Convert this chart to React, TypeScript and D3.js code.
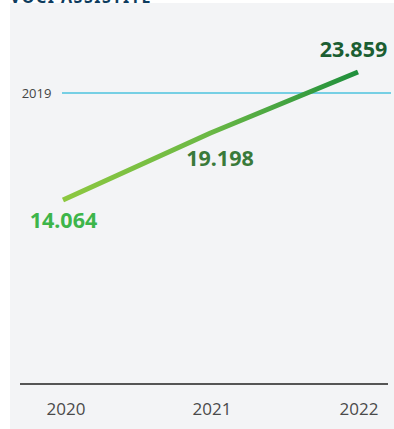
import React from "react";
import * as d3 from "d3";

const years = ["2020", "2021", "2022"];
const values = [14.064, 19.198, 23.859];
const valueLabels = ["14.064", "19.198", "23.859"];
const refYear = "2019";
const refValue = 22.25;
const labelColors = ["#3db54a", "#3a7a3a", "#1b5e32"];

export default function App() {
  const W = 394, H = 429;
  const x = d3.scalePoint<string>().domain(years).range([63, 358]);
  const y = d3.scaleLinear().domain([0, values[2]]).range([384, 72]);
  const line = d3.line<number>().x((_, i) => x(years[i])!).y(d => y(d));
  const pts = values.map((v, i) => ({ x: x(years[i])!, y: y(v) }));
  const labelOffsets = [
    { dx: 0.5, dy: 28 },
    { dx: 9.5, dy: 33 },
    { dx: -4.5, dy: -15 },
  ];
  const tickX = [66, 212, 359];
  return (
    <svg width={W} height={H} style={{ position: "absolute", left: 0, top: 0 }}>
      <defs>
        <linearGradient id="lg" gradientUnits="userSpaceOnUse" x1={pts[0].x} y1={0} x2={pts[2].x} y2={0}>
          <stop offset="0" stopColor="#8dc840" />
          <stop offset="0.5" stopColor="#6ab845" />
          <stop offset="1" stopColor="#1f8f3c" />
        </linearGradient>
      </defs>
      <rect x={10} y={3} width={W - 10} height={H - 3} fill="#f3f4f6" />
      <text x={10} y={3} fontFamily="Noto Sans" fontWeight="bold" fontSize={16} fill="#0d3b5e" letterSpacing={1.5}>
        VOCI ASSISTITE
      </text>
      <line x1={62} x2={391} y1={y(refValue)} y2={y(refValue)} stroke="#4dc3de" strokeWidth={1.5} />
      <text x={36.5} y={y(refValue) + 5} textAnchor="middle" fontFamily="Open Sans" fontSize={13} fill="#444">
        {refYear}
      </text>
      <path d={line(values)!} fill="none" stroke="url(#lg)" strokeWidth={5} strokeLinejoin="round" />
      {values.map((v, i) => (
        <text
          key={i}
          x={pts[i].x + labelOffsets[i].dx}
          y={pts[i].y + labelOffsets[i].dy}
          textAnchor="middle"
          fontFamily="Noto Sans"
          fontWeight="bold"
          fontSize={21.5}
          fill={labelColors[i]}
        >
          {valueLabels[i]}
        </text>
      ))}
      <line x1={20} x2={388} y1={384} y2={384} stroke="#555" strokeWidth={2} />
      {years.map((yr, i) => (
        <text key={yr} x={tickX[i]} y={415} textAnchor="middle" fontFamily="Open Sans" fontSize={17} fill="#4a4a4a">
          {yr}
        </text>
      ))}
    </svg>
  );
}
